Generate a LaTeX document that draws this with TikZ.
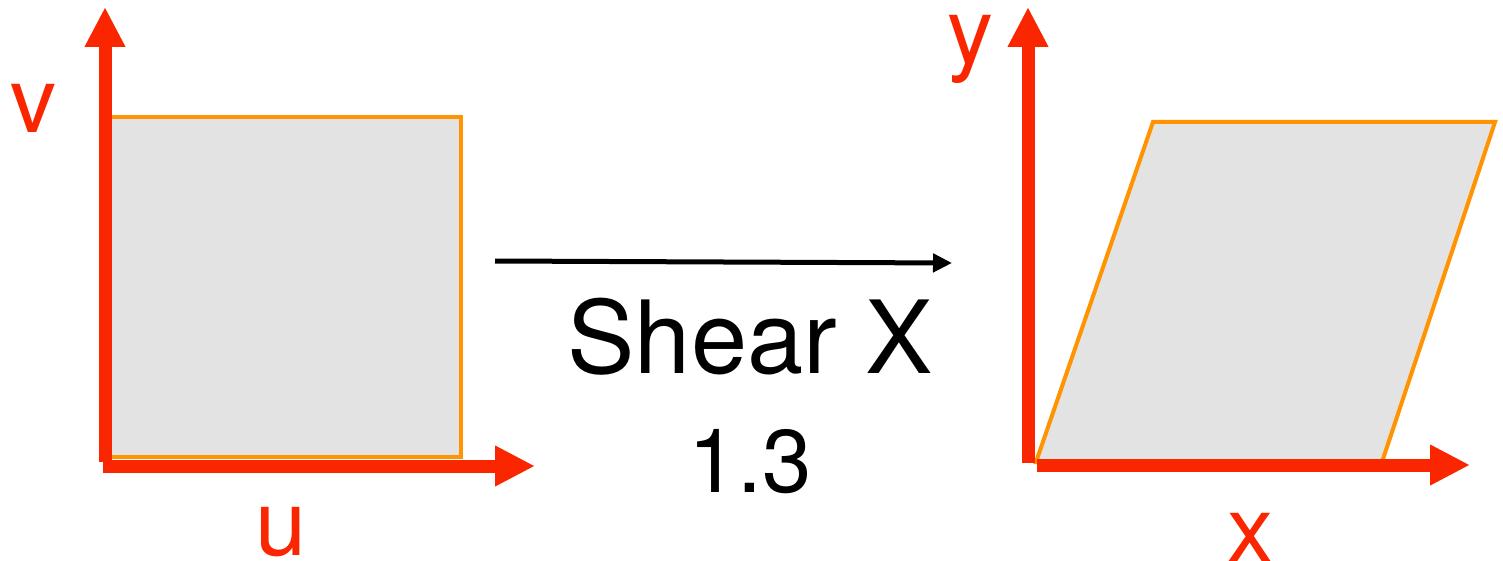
\documentclass[tikz,border=0pt]{standalone}
\usepackage{fontspec}
\setmainfont{TeX Gyre Heros}
\usetikzlibrary{arrows.meta}
\definecolor{axisred}{RGB}{250,38,0}
\definecolor{edgeorange}{RGB}{255,147,0}
\definecolor{shapegray}{RGB}{227,227,227}
\begin{document}
\begin{tikzpicture}[x=1pt,y=-1pt,
  axis/.style={draw=axisred,line width=13pt,-{Triangle[length=40pt,width=38pt]}},
  shapebox/.style={fill=shapegray,draw=edgeorange,line width=4pt,line join=miter},
  axislabel/.style={text=axisred,anchor=base,inner sep=0pt,font=\fontsize{92}{110}\selectfont},
  bigtext/.style={anchor=base,inner sep=0pt}]
\useasboundingbox (0,0) rectangle (1503,561);
% left panel
\draw[shapebox] (108,117) rectangle (461,457);
\coordinate (lo1) at (105,462);
\coordinate (lv) at (105,7);
\coordinate (lo2) at (103,466);
\coordinate (lu) at (535,466);
\draw[axis] (lo1) -- (lv);
\draw[axis] (lo2) -- (lu);
\node[axislabel] (v) at (33,133) {v};
\node[axislabel] (u) at (281,555) {u};
% middle
\coordinate (ma) at (495,261);
\coordinate (mb) at (952,263);
\draw[black,line width=5pt,-{Triangle[length=19pt,width=18pt]}] (ma) -- (mb);
\node[bigtext,font=\fontsize{101}{120}\selectfont] (shear) at (750,373) {Shear X};
\node[bigtext,font=\fontsize{89}{105}\selectfont] (amount) at (750,492) {1.3};
% right panel
\draw[shapebox] (1036,462) -- (1153,122) -- (1495,122) -- (1382,462) -- cycle;
\coordinate (ro1) at (1028,463);
\coordinate (ry) at (1028,7);
\coordinate (ro2) at (1037,465);
\coordinate (rx) at (1470,465);
\draw[axis] (ro1) -- (ry);
\draw[axis] (ro2) -- (rx);
\node[axislabel] (y) at (970,64) {y};
\node[axislabel] (x) at (1250,561) {x};
\end{tikzpicture}
\end{document}
